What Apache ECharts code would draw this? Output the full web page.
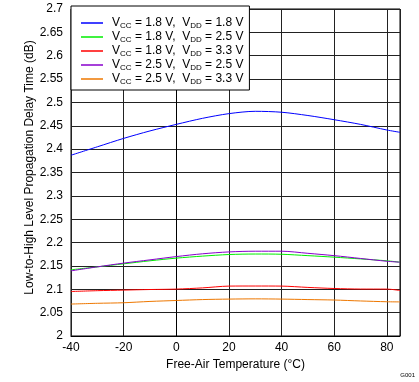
<!DOCTYPE html>
<html><head><meta charset="utf-8">
<script src="https://cdn.jsdelivr.net/npm/echarts@6/dist/echarts.min.js"></script>
<style>html,body{margin:0;padding:0;background:#fff}#c{width:419px;height:382px}</style>
</head><body><div id="c"></div>
<script>
var temps = [-40, -30, -20, -10, 0, 10, 20, 30, 40, 50, 60, 70, 80, 85];
var vccList = ['1.8', '1.8', '1.8', '2.5', '2.5'];
var vddList = ['1.8', '2.5', '3.3', '2.5', '3.3'];
var colors = ['#0000ff', '#00ee00', '#ff0000', '#8800cc', '#ee7700'];
var s1 = [2.387, 2.405, 2.423, 2.439, 2.453, 2.466, 2.476, 2.481, 2.479, 2.472, 2.463, 2.453, 2.441, 2.436];
var s2 = [2.1417, 2.148, 2.1545, 2.161, 2.1667, 2.171, 2.1744, 2.1755, 2.175, 2.172, 2.1688, 2.165, 2.161, 2.158];
var s3 = [2.0953, 2.097, 2.0983, 2.0995, 2.1004, 2.103, 2.1068, 2.107, 2.1068, 2.104, 2.1017, 2.1005, 2.1004, 2.0975];
var s4 = [2.1395, 2.148, 2.156, 2.163, 2.170, 2.176, 2.180, 2.1815, 2.1815, 2.177, 2.172, 2.166, 2.160, 2.158];
var s5 = [2.0684, 2.070, 2.0712, 2.074, 2.076, 2.078, 2.079, 2.0795, 2.079, 2.078, 2.077, 2.075, 2.0733, 2.073];
var allSeries = [s1, s2, s3, s4, s5];

var FONT = '"Liberation Sans", Arial, sans-serif';
var names = vccList.map(function (v, i) { return 'S' + i; });
var series = allSeries.map(function (vals, i) {
  return {
    name: names[i], type: 'line', showSymbol: false, smooth: 0.3,
    lineStyle: { width: 1, color: colors[i] }, itemStyle: { color: colors[i] },
    data: temps.map(function (t, j) { return [t, vals[j]]; })
  };
});

var chart = echarts.init(document.getElementById('c'));
chart.setOption({
  animation: false,
  backgroundColor: '#fff',
  grid: { left: 71, right: 19, top: 9, bottom: 46, show: true, borderColor: '#000', borderWidth: 1 },
  xAxis: {
    type: 'value', min: -40, max: 85, interval: 20,
    name: 'Free-Air Temperature (°C)', nameLocation: 'middle', nameGap: 23,
    nameTextStyle: { fontFamily: FONT, fontSize: 12, color: '#000' },
    axisLine: { lineStyle: { color: '#000' } }, axisTick: { show: false },
    axisLabel: { fontFamily: FONT, fontSize: 12, color: '#000', margin: 6, showMaxLabel: false },
    splitLine: { lineStyle: { color: '#222', width: 1 } }
  },
  yAxis: {
    type: 'value', min: 2, max: 2.7, interval: 0.05,
    name: 'Low-to-High Level Propagation Delay Time (dB)', nameLocation: 'middle', nameGap: 35,
    nameMoveOverlap: false,
    nameTextStyle: { fontFamily: FONT, fontSize: 12, color: '#000', padding: [0, 0, 0, 10] },
    axisLine: { lineStyle: { color: '#000' } }, axisTick: { show: false },
    axisLabel: { fontFamily: FONT, fontSize: 12, color: '#000', margin: 8,
      formatter: function (v) { return String(parseFloat(v.toFixed(2))); } },
    splitLine: { lineStyle: { color: '#222', width: 1 } }
  },
  legend: {
    orient: 'vertical', left: 71, top: 6, data: names, icon: 'rect',
    itemWidth: 22, itemHeight: 1.5, itemGap: 0,
    backgroundColor: '#fff', borderColor: '#000', borderWidth: 1,
    padding: [10, 6, 4, 10],
    formatter: function (n) {
      var i = names.indexOf(n);
      return '{a|V}{s|CC}{n| = ' + vccList[i] + ' V,  V}{s|DD}{n| = ' + vddList[i] + ' V}';
    },
    textStyle: {
      fontFamily: FONT, fontSize: 12, color: '#000',
      rich: {
        a: { fontFamily: FONT, fontSize: 12, color: '#000', padding: [0, 0, 0, 4], lineHeight: 14 },
        n: { fontFamily: FONT, fontSize: 12, color: '#000', lineHeight: 14 },
        s: { fontFamily: FONT, fontSize: 8, color: '#000', lineHeight: 14, padding: [6, 0, 0, 0] }
      }
    }
  },
  graphic: [{ type: 'text', right: 4, bottom: 4, style: { text: 'G001', fontFamily: FONT, fontSize: 6, fill: '#000' } }],
  series: series
});
</script></body></html>
